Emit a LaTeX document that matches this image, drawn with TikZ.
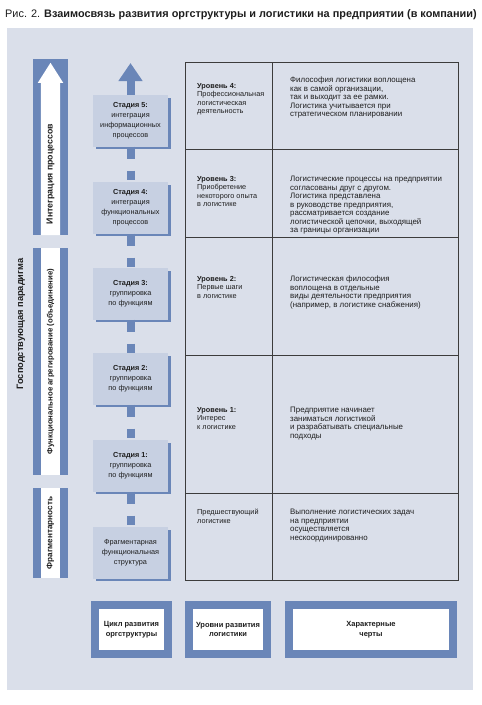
\documentclass[tikz,border=0pt]{standalone}
\usepackage{fontspec}
\setmainfont{Liberation Sans}
\usetikzlibrary{arrows.meta,calc,shadows}
\definecolor{panel}{HTML}{DADFEA}
\definecolor{bl}{HTML}{6A86B8}
\definecolor{stagefill}{HTML}{C7D0E2}
\definecolor{gridc}{HTML}{3C3C3C}
\definecolor{txt}{HTML}{1E1E1E}
\begin{document}
\begin{tikzpicture}[x=1pt,y=-1pt,
  stagebox/.style={fill=stagefill, minimum width=75pt, minimum height=51.5pt, inner sep=0pt,
    align=center, font=\fontsize{7.3}{9.7}\selectfont, text=txt,
    general shadow={fill=bl, shadow xshift=2.5pt, shadow yshift=-2.5pt}},
  conn/.style={draw=bl, line width=8pt, dash pattern=on 12pt off 12pt on 9pt off 30pt},
  bar/.style={fill=bl, minimum width=35pt, inner sep=0pt},
  bartext/.style={rotate=90, font=\bfseries\fontsize{8.2}{9}\selectfont, text=txt, inner sep=0pt},
  gridline/.style={draw=gridc, line width=0.8pt},
  cell/.style={anchor=north west, align=left, inner sep=0pt, font=\fontsize{7.9}{8.5}\selectfont, text=txt},
  lcell/.style={cell, font=\fontsize{7.3}{8.4}\selectfont},
  legend/.style={draw=bl, line width=8pt, fill=white, inner sep=0pt, align=center,
    font=\bfseries\fontsize{7.5}{9.8}\selectfont, text=txt, minimum height=49pt}
]
\useasboundingbox (0,0) rectangle (482,705);
\fill[panel] (7,28) rectangle (473,690);
\node[anchor=west, inner sep=0pt, font=\fontsize{10.9}{12}\selectfont, text=txt] (title) at (5,14.5)
  {Рис. 2. \textbf{Взаимосвязь развития оргструктуры и логистики на предприятии (в компании)}};

% left bars
\node[bar, minimum height=176pt] (bar1) at (50.5,147) {};
\node[bar, minimum height=227pt] (bar2) at (50.5,361.5) {};
\node[bar, minimum height=90pt] (bar3) at (50.5,533) {};
\fill[white] ($(bar1.south west)+(8,0)$) -- ($(bar1.north west)+(8,24)$) -- ($(bar1.north west)+(5,24)$)
  -- ($(bar1.north)+(0,4)$) -- ($(bar1.north east)+(-5,24)$) -- ($(bar1.north east)+(-8,24)$)
  -- ($(bar1.south east)+(-8,0)$) -- cycle;
\fill[white] ($(bar2.north west)+(8,0)$) rectangle ($(bar2.south east)+(-8,0)$);
\fill[white] ($(bar3.north west)+(8,0)$) rectangle ($(bar3.south east)+(-8,0)$);
\node[bartext, font=\bfseries\fontsize{8.8}{9}\selectfont] (t1) at (50.5,174) {Интеграция процессов};
\node[bartext, font=\bfseries\fontsize{7.8}{9}\selectfont] (t2) at (bar2.center) {Функциональное агрегирование (объединение)};
\node[bartext] (t3) at (bar3.center) {Фрагментарность};
\node[bartext, font=\bfseries\fontsize{9.3}{10}\selectfont] (t0) at (21,324) {Господствующая парадигма};

% stages
\node[stagebox] (s5) at (130.5,120.75) {\textbf{Стадия 5:}\\интеграция\\информационных\\процессов};
\node[stagebox] (s4) at (130.5,207.75) {\textbf{Стадия 4:}\\интеграция\\функциональных\\процессов};
\node[stagebox] (s3) at (130.5,293.75) {\textbf{Стадия 3:}\\группировка\\по функциям};
\node[stagebox] (s2) at (130.5,378.75) {\textbf{Стадия 2:}\\группировка\\по функциям};
\node[stagebox] (s1) at (130.5,465.75) {\textbf{Стадия 1:}\\группировка\\по функциям};
\node[stagebox] (s0) at (130.5,552.75) {Фрагментарная\\функциональная\\структура};
\coordinate (tip5) at (130.5,63);
\draw[draw=bl, line width=8pt, -{Triangle[width=23pt,length=18pt]}] (s5.north) -- (tip5);
\draw[conn] (s5.south) -- (s4.north);
\draw[conn] (s4.south) -- (s3.north);
\draw[conn] (s3.south) -- (s2.north);
\draw[conn] (s2.south) -- (s1.north);
\draw[conn] (s1.south) -- (s0.north);

% table
\draw[gridline] (185,62) rectangle (458,580);
\draw[gridline] (272,62) -- (272,580);
\foreach \yy in {149,237,355,493} \draw[gridline] (185,\yy) -- (458,\yy);

\node[lcell] (l4) at (197,83) {\textbf{Уровень 4:}\\Профессиональная\\логистическая\\деятельность};
\node[cell] (d4) at (290,77) {Философия логистики воплощена\\как в самой организации,\\так и выходит за ее рамки.\\Логистика учитывается при\\стратегическом планировании};
\node[lcell] (l3) at (197,176) {\textbf{Уровень 3:}\\Приобретение\\некоторого опыта\\в логистике};
\node[cell] (d3) at (290,176) {Логистические процессы на предприятии\\согласованы друг с другом.\\Логистика представлена\\в руководстве предприятия,\\рассматривается создание\\логистической цепочки, выходящей\\за границы организации};
\node[lcell] (l2) at (197,276) {\textbf{Уровень 2:}\\Первые шаги\\в логистике};
\node[cell] (d2) at (290,276) {Логистическая философия\\воплощена в отдельные\\виды деятельности предприятия\\(например, в логистике снабжения)};
\node[lcell] (l1) at (197,407) {\textbf{Уровень 1:}\\Интерес\\к логистике};
\node[cell] (d1) at (290,407) {Предприятие начинает\\заниматься логистикой\\и разрабатывать специальные\\подходы};
\node[lcell] (l0) at (197,509) {Предшествующий\\логистике};
\node[cell] (d0) at (290,509) {Выполнение логистических задач\\на предприятии\\осуществляется\\нескоординированно};

% legend
\node[legend, minimum width=73pt] (g1) at (131.5,629.5) {Цикл развития\\оргструктуры};
\node[legend, minimum width=78pt] (g2) at (228,629.5) {Уровни развития\\логистики};
\node[legend, minimum width=164pt] (g3) at (371,629.5) {Характерные\\черты};
\end{tikzpicture}
\end{document}
